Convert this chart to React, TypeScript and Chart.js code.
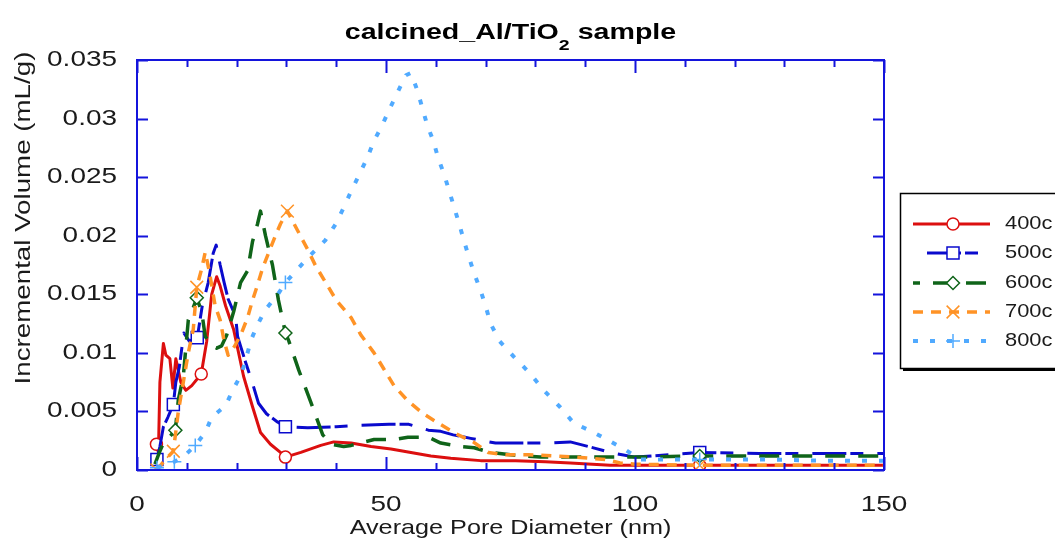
import { useEffect, useRef } from 'react';
import { Chart, registerables } from 'chart.js';

Chart.register(...registerables);

// ---- data -------------------------------------------------------------
const seriesNames = ['400c', '500c', '600c', '700c', '800c'];

const d400x = [3.5, 3.9, 4.3, 4.6, 5.3, 5.8, 6.6, 7.2, 7.8, 8.8, 9.8, 11.0, 12.9, 14.0, 15.0, 16.0, 16.7, 17.8, 19.4, 21.4, 23.2, 24.8, 26.8, 28.8, 29.8, 32.9, 36.9, 39.5, 43.0, 47.0, 51.0, 55.0, 59.0, 63.0, 69.0, 76.0, 82.0, 87.0, 95.0, 100.0, 113.0, 125.0, 138.0, 150.0];
const d400y = [0.0018, 0.0022, 0.0015, 0.0075, 0.0108, 0.0098, 0.0095, 0.0070, 0.0095, 0.0075, 0.0068, 0.0072, 0.0082, 0.0110, 0.0150, 0.0165, 0.0157, 0.0140, 0.0120, 0.0080, 0.0054, 0.0032, 0.0022, 0.0015, 0.0011, 0.0015, 0.0021, 0.0024, 0.0023, 0.0020, 0.0018, 0.0015, 0.0012, 0.0010, 0.0008, 0.0008, 0.0007, 0.0006, 0.0004, 0.0004, 0.0004, 0.0004, 0.0004, 0.0004];
const m400 = [3.9, 12.9, 29.8, 113.0];

const d500x = [4.0, 4.6, 5.3, 6.2, 7.3, 7.8, 8.5, 9.4, 10.5, 12.1, 13.1, 14.3, 15.3, 15.9, 16.7, 17.5, 18.3, 19.8, 20.2, 21.8, 23.2, 24.4, 26.0, 28.2, 29.8, 34.3, 40.0, 44.0, 50.6, 54.6, 58.5, 61.0, 63.5, 67.0, 72.0, 76.0, 82.0, 87.0, 90.7, 95.0, 97.4, 100.0, 113.0, 125.0, 138.0, 150.0];
const d500y = [0.0009, 0.0020, 0.0037, 0.0045, 0.0056, 0.0075, 0.0088, 0.0117, 0.0110, 0.0113, 0.0140, 0.0160, 0.0185, 0.0192, 0.0175, 0.0160, 0.0146, 0.0131, 0.0114, 0.0092, 0.0074, 0.0057, 0.0048, 0.0041, 0.0037, 0.0036, 0.0037, 0.0038, 0.0039, 0.0039, 0.0034, 0.0033, 0.0030, 0.0027, 0.0023, 0.0023, 0.0023, 0.0024, 0.0020, 0.0015, 0.0013, 0.0011, 0.0015, 0.0014, 0.0014, 0.0014];
const m500 = [4.0, 7.3, 12.1, 29.8, 113.0];

const d600x = [3.6, 4.5, 5.5, 6.5, 7.7, 8.3, 9.3, 10.3, 11.0, 12.0, 13.0, 13.7, 15.0, 16.0, 17.0, 18.0, 19.4, 20.8, 22.2, 23.2, 24.2, 24.8, 25.8, 27.2, 28.4, 29.8, 30.5, 32.5, 34.9, 37.3, 39.0, 41.5, 43.0, 47.6, 51.6, 54.4, 58.5, 61.0, 65.0, 67.7, 71.0, 75.0, 81.0, 85.0, 92.0, 100.0, 113.0, 125.0, 138.0, 150.0];
const d600y = [0.0005, 0.0015, 0.0025, 0.0028, 0.0034, 0.0060, 0.0080, 0.0128, 0.0135, 0.0147, 0.0135, 0.0114, 0.0106, 0.0104, 0.0106, 0.0115, 0.0135, 0.0160, 0.0170, 0.0195, 0.0210, 0.0221, 0.0200, 0.0175, 0.0145, 0.0117, 0.0110, 0.0085, 0.0058, 0.0030, 0.0022, 0.0020, 0.0021, 0.0026, 0.0026, 0.0028, 0.0028, 0.0023, 0.0020, 0.0019, 0.0015, 0.0013, 0.0011, 0.0011, 0.0011, 0.0011, 0.0012, 0.0012, 0.0012, 0.0012];
const m600 = [7.7, 12.0, 29.8, 113.0];

const d700x = [4.0, 5.5, 7.3, 8.3, 9.3, 10.3, 11.3, 12.0, 13.0, 13.7, 14.5, 15.7, 16.7, 17.5, 18.3, 19.5, 20.8, 22.2, 23.2, 24.2, 25.2, 26.4, 27.8, 28.8, 30.2, 32.3, 34.3, 35.9, 37.9, 40.0, 43.0, 45.0, 47.6, 49.6, 51.6, 54.4, 57.5, 60.5, 64.0, 67.5, 70.5, 74.0, 78.6, 84.0, 88.0, 94.0, 97.0, 100.0, 113.0, 125.0, 138.0, 150.0];
const d700y = [0.0000, 0.0008, 0.0016, 0.0050, 0.0075, 0.0100, 0.0120, 0.0156, 0.0172, 0.0186, 0.0170, 0.0140, 0.0128, 0.0110, 0.0098, 0.0105, 0.0115, 0.0130, 0.0145, 0.0158, 0.0172, 0.0185, 0.0200, 0.0210, 0.0221, 0.0204, 0.0188, 0.0174, 0.0160, 0.0145, 0.0130, 0.0115, 0.0100, 0.0086, 0.0072, 0.0059, 0.0048, 0.0040, 0.0031, 0.0024, 0.0015, 0.0013, 0.0013, 0.0012, 0.0011, 0.0009, 0.0006, 0.0005, 0.0004, 0.0004, 0.0004, 0.0004];
const m700 = [4.0, 7.3, 12.0, 30.2, 113.0];

const d800x = [4.0, 5.5, 7.5, 9.5, 11.7, 13.7, 15.0, 17.8, 19.2, 21.0, 22.0, 23.0, 24.2, 25.8, 28.3, 29.8, 31.3, 34.5, 37.8, 39.9, 41.5, 43.0, 44.6, 46.2, 47.6, 49.2, 50.8, 52.4, 54.0, 55.0, 56.3, 57.3, 58.3, 59.5, 60.5, 61.7, 62.7, 63.7, 64.7, 65.7, 66.7, 67.7, 69.0, 70.0, 71.0, 72.8, 75.6, 78.8, 81.9, 84.9, 87.7, 91.3, 94.8, 98.2, 101.0, 105.0, 113.0, 125.0, 138.0, 150.0];
const d800y = [0.0002, 0.0004, 0.0007, 0.0012, 0.0021, 0.0032, 0.0045, 0.0055, 0.0068, 0.0082, 0.0097, 0.0112, 0.0124, 0.0137, 0.0150, 0.0160, 0.0167, 0.0182, 0.0196, 0.0210, 0.0224, 0.0238, 0.0252, 0.0266, 0.0281, 0.0294, 0.0309, 0.0323, 0.0337, 0.0339, 0.0324, 0.0309, 0.0294, 0.0281, 0.0266, 0.0252, 0.0238, 0.0224, 0.0210, 0.0195, 0.0181, 0.0168, 0.0153, 0.0140, 0.0125, 0.0110, 0.0097, 0.0083, 0.0067, 0.0054, 0.0040, 0.0033, 0.0025, 0.0017, 0.0009, 0.0009, 0.0009, 0.0009, 0.0008, 0.0008];
const m800 = [4.0, 7.5, 11.7, 29.8, 113.0];

const xTickValues = [0, 50, 100, 150];
const xTickLabels = ['0', '50', '100', '150'];
const xMinorTicks = [10, 20, 30, 40, 60, 70, 80, 90, 110, 120, 130, 140];
const yTickValues = [0, 0.005, 0.01, 0.015, 0.02, 0.025, 0.03, 0.035];
const yTickLabels = ['0', '0.005', '0.01', '0.015', '0.02', '0.025', '0.03', '0.035'];

const titleMain = 'calcined_Al/TiO';
const titleSub = '2';
const titleTail = ' sample';
const xAxisTitle = 'Average Pore Diameter (nm)';
const yAxisTitle = 'Incremental Volume (mL/g)';

// ---- styling ----------------------------------------------------------
const W = 1055;
const H = 543;
const FONT = "'Liberation Sans', Arial, Helvetica, sans-serif";
const TEXT_COLOR = '#1a1a1a';
const FRAME_COLOR = '#1414dc';
const SX = 1.27; // horizontal text stretch

type Style = {
  color: string;
  dash: number[];
  width: number;
  point: 'circle' | 'rect' | 'rectRot' | 'crossRot' | 'cross';
  radius: number;
  legendDashOffset: number;
};

const styles: Style[] = [
  { color: '#dc0f0f', dash: [], width: 3, point: 'circle', radius: 6, legendDashOffset: 0 },
  { color: '#0a0acd', dash: [34, 4, 13, 14], width: 3, point: 'rect', radius: 8.5, legendDashOffset: 51 },
  { color: '#0f6419', dash: [20, 13], width: 3.5, point: 'rectRot', radius: 6.5, legendDashOffset: 13 },
  { color: '#ff9326', dash: [10, 8], width: 3.5, point: 'crossRot', radius: 9, legendDashOffset: 0 },
  { color: '#50aaff', dash: [5, 12], width: 4, point: 'cross', radius: 7, legendDashOffset: 0 },
];

const seriesX = [d400x, d500x, d600x, d700x, d800x];
const seriesY = [d400y, d500y, d600y, d700y, d800y];
const seriesMarks = [m400, m500, m600, m700, m800];

function drawMarker(ctx: CanvasRenderingContext2D, s: Style, x: number, y: number) {
  const r = s.radius;
  ctx.save();
  ctx.setLineDash([]);
  ctx.strokeStyle = s.color;
  ctx.fillStyle = '#ffffff';
  ctx.lineWidth = 1.5;
  ctx.beginPath();
  if (s.point === 'circle') {
    ctx.arc(x, y, r, 0, Math.PI * 2);
    ctx.fill();
    ctx.stroke();
  } else if (s.point === 'rect') {
    const h = r * Math.SQRT1_2;
    ctx.rect(x - h, y - h, 2 * h, 2 * h);
    ctx.fill();
    ctx.stroke();
  } else if (s.point === 'rectRot') {
    ctx.moveTo(x - r, y);
    ctx.lineTo(x, y - r);
    ctx.lineTo(x + r, y);
    ctx.lineTo(x, y + r);
    ctx.closePath();
    ctx.fill();
    ctx.stroke();
  } else if (s.point === 'crossRot') {
    const h = r * Math.SQRT1_2;
    ctx.moveTo(x - h, y - h);
    ctx.lineTo(x + h, y + h);
    ctx.moveTo(x - h, y + h);
    ctx.lineTo(x + h, y - h);
    ctx.stroke();
  } else {
    ctx.moveTo(x - r, y);
    ctx.lineTo(x + r, y);
    ctx.moveTo(x, y - r);
    ctx.lineTo(x, y + r);
    ctx.stroke();
  }
  ctx.restore();
}

function stretchText(
  ctx: CanvasRenderingContext2D,
  text: string,
  x: number,
  y: number,
  font: string,
  sx: number,
  align: CanvasTextAlign,
  angle = 0,
) {
  ctx.save();
  ctx.translate(x, y);
  if (angle) ctx.rotate(angle);
  ctx.scale(sx, 1);
  ctx.font = font;
  ctx.fillStyle = TEXT_COLOR;
  ctx.textAlign = align;
  ctx.textBaseline = 'middle';
  ctx.fillText(text, 0, 0);
  ctx.restore();
}

const decorations = {
  id: 'decorations',
  afterDatasetsDraw(chart: Chart) {
    const ctx = chart.ctx;
    const area = chart.chartArea;
    const xs = chart.scales.x;
    const ys = chart.scales.y;

    // frame
    ctx.save();
    ctx.strokeStyle = FRAME_COLOR;
    ctx.lineWidth = 2;
    ctx.strokeRect(area.left, area.top, area.right - area.left, area.bottom - area.top);

    // inward ticks
    ctx.lineWidth = 2;
    ctx.beginPath();
    const tickX = (v: number, len: number) => {
      const px = Math.round(xs.getPixelForValue(v)) + 0.5;
      ctx.moveTo(px, area.bottom);
      ctx.lineTo(px, area.bottom - len);
      ctx.moveTo(px, area.top);
      ctx.lineTo(px, area.top + len);
    };
    xTickValues.forEach((v) => tickX(v, 13));
    xMinorTicks.forEach((v) => tickX(v, 7));
    yTickValues.forEach((v) => {
      const py = Math.round(ys.getPixelForValue(v)) + 0.5;
      ctx.moveTo(area.left, py);
      ctx.lineTo(area.left + 11, py);
      ctx.moveTo(area.right, py);
      ctx.lineTo(area.right - 11, py);
    });
    ctx.stroke();
    ctx.restore();

    const tickFont = `22px ${FONT}`;
    // tick labels
    xTickValues.forEach((v, i) => {
      stretchText(ctx, xTickLabels[i], xs.getPixelForValue(v), area.bottom + 35, tickFont, SX, 'center');
    });
    yTickValues.forEach((v, i) => {
      stretchText(ctx, yTickLabels[i], area.left - 20, ys.getPixelForValue(v), tickFont, SX, 'right');
    });

    // axis titles
    stretchText(ctx, xAxisTitle, (area.left + area.right) / 2, area.bottom + 58, `21px ${FONT}`, 1.2, 'center');
    stretchText(ctx, yAxisTitle, 24, 218, `22px ${FONT}`, 1.26, 'center', -Math.PI / 2);

    // title with subscript
    ctx.save();
    const big = `bold 22px ${FONT}`;
    const small = `bold 15px ${FONT}`;
    ctx.font = big;
    const w1 = ctx.measureText(titleMain).width;
    const w3 = ctx.measureText(titleTail).width;
    ctx.font = small;
    const w2 = ctx.measureText(titleSub).width;
    const tsx = 1.3;
    const total = (w1 + w2 + w3) * tsx;
    const cx = (area.left + area.right) / 2;
    ctx.translate(cx - total / 2, 39);
    ctx.scale(tsx, 1);
    ctx.fillStyle = '#000000';
    ctx.textAlign = 'left';
    ctx.textBaseline = 'alphabetic';
    ctx.font = big;
    ctx.fillText(titleMain, 0, 0);
    ctx.font = small;
    ctx.fillText(titleSub, w1, 11);
    ctx.font = big;
    ctx.fillText(titleTail, w1 + w2, 0);
    ctx.restore();

    // legend
    const lx = 900;
    const ly = 193;
    const lw = 170;
    const lh = 175;
    ctx.save();
    ctx.fillStyle = '#ffffff';
    ctx.fillRect(lx, ly, lw, lh);
    ctx.strokeStyle = '#000000';
    ctx.lineWidth = 1.5;
    ctx.strokeRect(lx + 0.5, ly + 0.5, lw, lh);
    ctx.fillStyle = '#000000';
    ctx.fillRect(lx + 3, ly + lh + 1, lw, 2);
    ctx.restore();

    const rows = [224, 253, 283, 312, 341];
    seriesNames.forEach((name, i) => {
      const s = styles[i];
      const y = rows[i];
      ctx.save();
      ctx.strokeStyle = s.color;
      ctx.lineWidth = s.width;
      ctx.setLineDash(s.dash);
      ctx.lineDashOffset = s.legendDashOffset;
      ctx.beginPath();
      ctx.moveTo(913, y);
      ctx.lineTo(990, y);
      ctx.stroke();
      ctx.restore();
      drawMarker(ctx, s, 953, y);
      stretchText(ctx, name, 1005, y, `19px ${FONT}`, 1.15, 'left');
    });
  },
};

export default function App() {
  const canvasRef = useRef<HTMLCanvasElement | null>(null);

  useEffect(() => {
    document.body.style.margin = '0';
    const canvas = canvasRef.current;
    if (!canvas) return;

    const datasets = seriesNames.map((name, i) => {
      const s = styles[i];
      const xsArr = seriesX[i];
      const marks = seriesMarks[i];
      return {
        label: name,
        data: xsArr.map((x, j) => ({ x, y: seriesY[i][j] })),
        borderColor: s.color,
        borderWidth: s.width,
        borderDash: s.dash,
        borderCapStyle: 'butt' as const,
        borderJoinStyle: 'round' as const,
        tension: 0,
        fill: false,
        pointStyle: s.point,
        pointBorderColor: s.color,
        pointBackgroundColor: '#ffffff',
        pointBorderWidth: 1.5,
        pointRadius: xsArr.map((x) => (marks.includes(x) ? s.radius : 0)),
        pointHoverRadius: 0,
        order: 5 - i,
      };
    });

    const chart = new Chart(canvas, {
      type: 'line',
      data: { datasets },
      options: {
        responsive: false,
        animation: false,
        devicePixelRatio: 1,
        layout: { padding: { left: 137, right: W - 884, top: 60, bottom: H - 470 } },
        scales: {
          x: { type: 'linear', min: 0, max: 150, display: false },
          y: { type: 'linear', min: 0, max: 0.035, display: false },
        },
        plugins: {
          legend: { display: false },
          title: { display: false },
          tooltip: { enabled: false },
        },
        events: [],
      },
      plugins: [decorations],
    });

    return () => chart.destroy();
  }, []);

  return (
    <div style={{ width: W, height: H, background: '#ffffff' }}>
      <canvas ref={canvasRef} width={W} height={H} style={{ display: 'block' }} />
    </div>
  );
}
